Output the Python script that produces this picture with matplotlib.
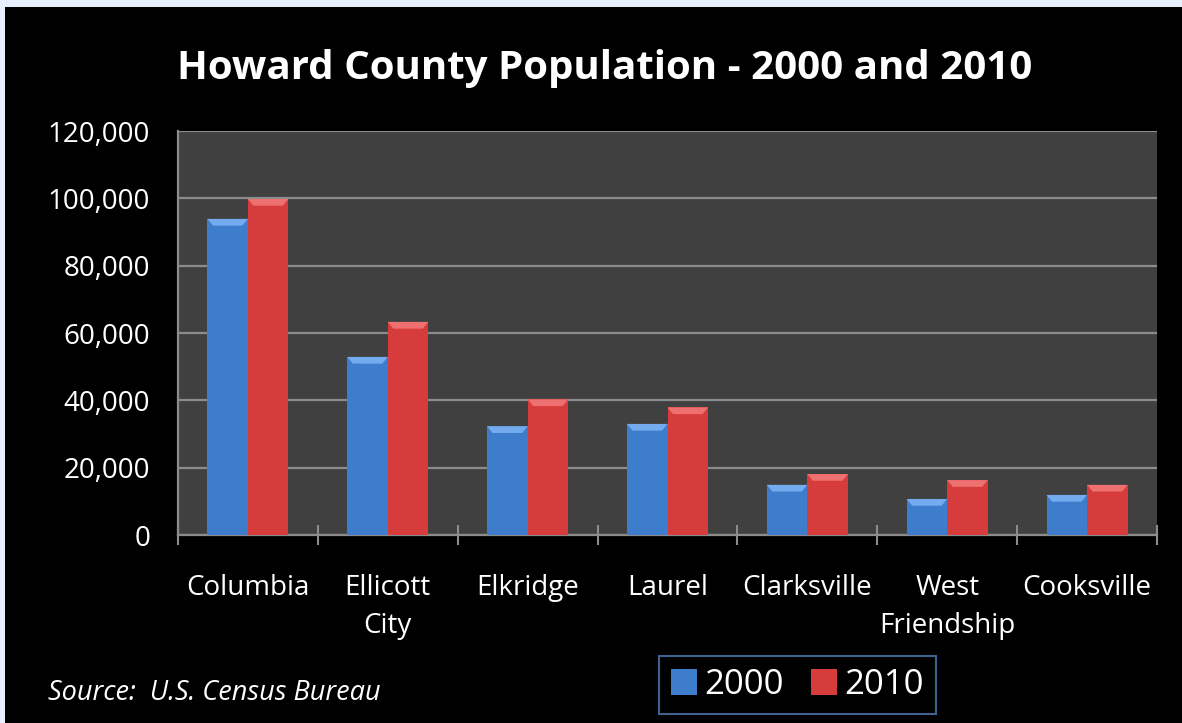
import matplotlib
matplotlib.use("Agg")
from matplotlib import pyplot as plt
from matplotlib.patches import Patch, Rectangle, Polygon
import numpy as np

# data
places = ['Columbia', 'Ellicott\nCity', 'Elkridge', 'Laurel', 'Clarksville',
          'West\nFriendship', 'Cooksville']
pop_2000 = [93900, 52900, 32300, 33000, 14900, 10700, 11900]
pop_2010 = [99800, 63300, 40300, 37900, 18100, 16300, 14900]
years = ['2000', '2010']
y_ticks = [0, 20000, 40000, 60000, 80000, 100000, 120000]

blue = '#3d7dcc'
red = '#d63c3c'
grid_c = '#8c8c8c'

plt.rcParams['font.family'] = ['Open Sans', 'DejaVu Sans']

fig = plt.figure(figsize=(11.82, 7.23), dpi=100, facecolor='black')

# light strip along top and left edge of the picture
fig.patches.append(Rectangle((0, 1 - 7 / 723), 1, 7 / 723, transform=fig.transFigure,
                             facecolor='#e8f0fe', edgecolor='none', zorder=0))
fig.patches.append(Rectangle((0, 0), 5 / 1182, 1, transform=fig.transFigure,
                             facecolor='#e8f0fe', edgecolor='none', zorder=0))

ax = fig.add_axes([178 / 1182, 1 - 535 / 723, (1157 - 178) / 1182, (535 - 131) / 723])
ax.set_facecolor('#404040')

x = np.arange(len(places))
w = 0.29


def draw_bars(xs, vals, color, light):
    bars = ax.bar(xs, vals, width=w, color=color, edgecolor='none', zorder=3)
    # small bevel on top of each bar
    for b in bars:
        x0, x1 = b.get_x(), b.get_x() + b.get_width()
        top = b.get_height()
        d = 2000
        bev = Polygon([(x0, top), (x1, top), (x1 - 0.04, top - d), (x0 + 0.04, top - d)],
                      closed=True, facecolor=light, edgecolor='none', zorder=4)
        ax.add_patch(bev)
    return bars


draw_bars(x - w / 2, pop_2000, blue, '#74aaee')
draw_bars(x + w / 2, pop_2010, red, '#ee7070')

ax.set_xlim(-0.5, len(places) - 0.5)
ax.set_ylim(0, 120000)
ax.set_yticks(y_ticks)
ax.set_yticklabels([f'{v:,}' for v in y_ticks])
ax.yaxis.grid(True, color=grid_c, linewidth=1.6, zorder=1)
ax.set_axisbelow(True)

ax.set_xticks(x)
ax.set_xticklabels(places, linespacing=1.5)
ax.set_xticks(np.arange(len(places) + 1) - 0.5, minor=True)
ax.tick_params(axis='x', which='major', length=0, pad=28, labelsize=20, colors='white',
               labelcolor='white')
ax.tick_params(axis='x', which='minor', direction='inout', length=14, width=1.5,
               color=grid_c)
ax.tick_params(axis='y', length=0, pad=20, labelsize=20, labelcolor='white')

for s in ['top', 'right']:
    ax.spines[s].set_visible(False)
for s in ['left', 'bottom']:
    ax.spines[s].set_color(grid_c)
    ax.spines[s].set_linewidth(1.6)

fig.text(605 / 1182, 1 - 68 / 723, 'Howard County Population - 2000 and 2010',
         color='white', fontsize=29, fontweight='bold', ha='center', va='center')

fig.text(48 / 1182, 1 - 693 / 723, 'Source:  U.S. Census Bureau', color='white',
         fontsize=19.5, style='italic', ha='left', va='center')

handles = [Patch(facecolor=blue, edgecolor='none'), Patch(facecolor=red, edgecolor='none')]
leg = fig.legend(handles, years, loc='center', bbox_to_anchor=(797.5 / 1182, 1 - 685 / 723),
                 ncol=2, fontsize=25, frameon=True, fancybox=False, handlelength=0.75,
                 handleheight=0.75, handletextpad=0.2, columnspacing=0.8,
                 borderpad=0.35, borderaxespad=0)
leg.get_frame().set_facecolor('black')
leg.get_frame().set_edgecolor('#4f7ab8')
leg.get_frame().set_linewidth(1.5)
for t in leg.get_texts():
    t.set_color('white')

fig.savefig('out.png', dpi=100, facecolor='black')
